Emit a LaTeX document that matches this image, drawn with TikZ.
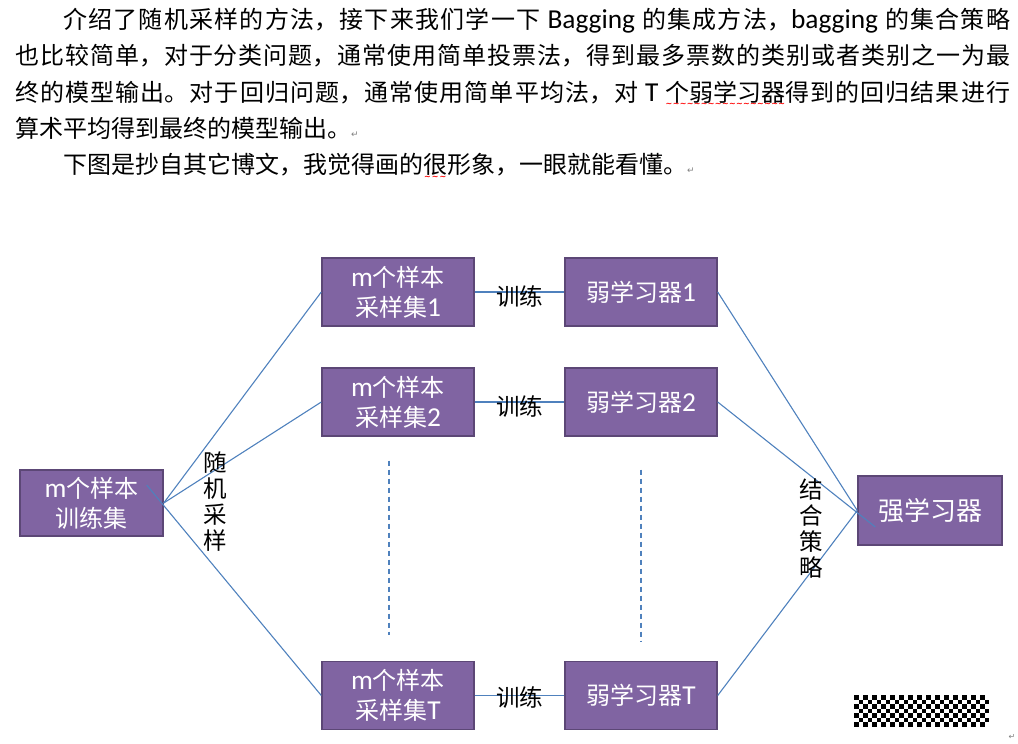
\documentclass[tikz,border=0pt]{standalone}
\usepackage{fontspec}
\setmainfont{Noto Sans CJK SC}
\newfontfamily\lat[Scale=1.14]{Carlito}
\newfontfamily\sym{DejaVu Sans}
\XeTeXlinebreaklocale "zh"
\XeTeXlinebreakskip=0pt plus 2pt

\definecolor{boxfill}{HTML}{8064A2}
\definecolor{boxline}{HTML}{5C4776}
\definecolor{linkblue}{HTML}{4F81BD}

\newcommand{\pmark}{{\sym\fontsize{9}{9}\selectfont\textcolor{gray}{↵}}}
\newcommand{\spell}[1]{\setbox0\hbox{#1}%
	\rlap{\raisebox{-5.5pt}{\textcolor{red}{\hbox to \wd0{\xleaders\hbox{\sym\bfseries\fontsize{8}{8}\selectfont ∼}\hfill}}}}\box0}

\begin{document}
\begin{tikzpicture}[x=1pt,y=-1pt,
		box/.style={draw=boxline,fill=boxfill,line width=1.4pt,text=white,align=center,
			minimum width=152pt,minimum height=68pt,font=\fontsize{24}{30}\selectfont},
		link/.style={draw=linkblue,line width=1.1pt},
		dots/.style={link,dash pattern=on 5pt off 4pt},
		word/.style={inner sep=0pt,align=center,font=\fontsize{23.5}{26}\selectfont}
		]
	\useasboundingbox (0,0) rectangle (1018,744);

	% Absatz oben
	% ----------------------
	\node[anchor=north west,inner sep=0pt,text width=995pt,align=justify,
		font=\fontsize{24}{36.3}\selectfont] (intro) at (15,8) {%
		\hspace*{48pt}介绍了随机采样的方法，接下来我们学一下 {\lat Bagging} 的集成方法，{\lat bagging} 的集合策略\linebreak
		也比较简单，对于分类问题，通常使用简单投票法，得到最多票数的类别或者类别之一为最\linebreak
		终的模型输出。对于回归问题，通常使用简单平均法，对 {\lat T} \spell{个弱学习器}得到的回归结果进行\linebreak
		算术平均得到最终的模型输出。\pmark\par
		\hspace*{48pt}下图是抄自其它博文，我觉得画的\spell{很}形象，一眼就能看懂。\pmark};

	% Elemente
	% ----------------------

		% Trainingsmenge
		\node[box,minimum width=143pt,minimum height=66pt] (train) at (91.5,503) {{\lat m}个样本\\训练集};

		% Stichproben
		\node[box] (s1) at (398,292) {{\lat m}个样本\\采样集{\lat 1}};
		\node[box] (s2) at (398,402) {{\lat m}个样本\\采样集{\lat 2}};
		\node[box] (sT) at (398,695.5) {{\lat m}个样本\\采样集{\lat T}};

		% schwache Lerner
		\node[box] (w1) at (641,292) {弱学习器{\lat 1}};
		\node[box] (w2) at (641,402) {弱学习器{\lat 2}};
		\node[box] (wT) at (641,695.5) {弱学习器{\lat T}};

		% starker Lerner
		\node[box,minimum width=144pt,minimum height=69pt,font=\fontsize{26}{30}\selectfont] (strong) at (930,510.5) {强学习器};

	% Verbindungen
	% ----------------------
	\draw[link] (train.east) -- (s1.west);
	\draw[link] (train.east) -- (s2.west);
	\draw[link] ([xshift=-17pt,yshift=18pt]train.east) -- (sT.west);
	\node[word] (sampling) at (215,502) {随\\机\\采\\样};

	\draw[link] (s1.east) -- node[word,yshift=-4pt]{训练} (w1.west);
	\draw[link] (s2.east) -- node[word,yshift=-4pt]{训练} (w2.west);
	\draw[link] (sT.east) -- node[word,yshift=-2pt]{训练} (wT.west);

	\draw[link] (w1.east) -- (strong.west);
	\draw[link] (w2.east) -- ([xshift=18pt,yshift=-16.5pt]strong.west);
	\draw[link] (wT.east) -- (strong.west);
	\node[word] (combine) at (811,528) {结\\合\\策\\略};

	% Auslassung
	\draw[dots] ([xshift=-9pt,yshift=-24pt]s2.south) -- ([xshift=-9pt,yshift=26pt]sT.north);
	\draw[dots] ([yshift=-33pt]w2.south) -- ([yshift=18.5pt]wT.north);

	% Bildplatzhalter unten rechts
	\foreach \i in {0,...,29}
		\foreach \j in {0,...,6}{
			\pgfmathtruncatemacro{\chk}{mod(\i+\j,2)}
			\ifnum\chk=0 \fill (854+4.5*\i,695+4.5*\j) rectangle ++(4.5,4.5);\fi
		}
	\node[inner sep=0pt,font=\sym\fontsize{8}{8}\selectfont,text=gray] (endmark) at (1012,737) {↵};

	\end{tikzpicture}
\end{document}
